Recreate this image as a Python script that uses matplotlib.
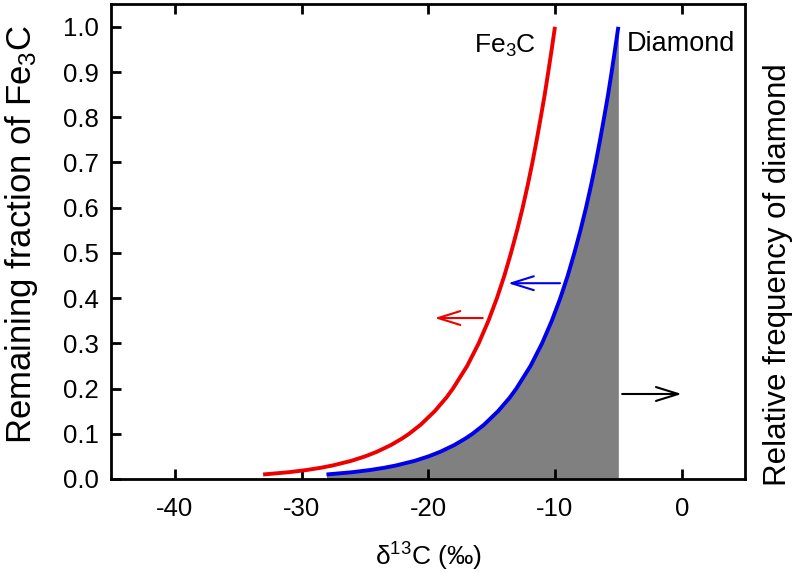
import numpy as np
import matplotlib
matplotlib.use("Agg")
import matplotlib.pyplot as plt

# values
frac = [0.01, 0.015, 0.02, 0.025, 0.03, 0.04, 0.05, 0.06, 0.075, 0.09,
        0.10, 0.12, 0.15, 0.18, 0.20, 0.25, 0.30, 0.35, 0.40, 0.45,
        0.50, 0.55, 0.60, 0.65, 0.70, 0.75, 0.80, 0.85, 0.90, 0.95, 1.00]
d13c_fe3c = [-33.03, -31.00, -29.56, -28.44, -27.53, -26.09, -24.98, -24.07, -22.95, -22.04,
             -21.51, -20.60, -19.49, -18.57, -18.05, -16.93, -16.02, -15.25, -14.58, -13.99,
             -13.47, -12.99, -12.55, -12.15, -11.78, -11.44, -11.12, -10.81, -10.53, -10.26, -10.00]
d13c_diamond = [-28.03, -26.00, -24.56, -23.44, -22.53, -21.09, -19.98, -19.07, -17.95, -17.04,
                -16.51, -15.60, -14.49, -13.57, -13.05, -11.93, -11.02, -10.25, -9.58, -8.99,
                -8.47, -7.99, -7.55, -7.15, -6.78, -6.44, -6.12, -5.81, -5.53, -5.26, -5.00]

plt.rcParams['font.family'] = ['Liberation Sans', 'DejaVu Sans']
plt.rcParams['mathtext.fontset'] = 'custom'
plt.rcParams['mathtext.rm'] = 'Liberation Sans'
plt.rcParams['mathtext.it'] = 'Liberation Sans'

fig = plt.figure(figsize=(7.96, 5.72), dpi=100)
ax = fig.add_axes([0.140, 0.1626, 0.796, 0.830])

ax.fill_between(d13c_diamond, 0, frac, color='#808080', lw=0, zorder=1)
ax.plot(d13c_fe3c, frac, color='#ee0000', lw=2.8, solid_capstyle='butt', zorder=3)
ax.plot(d13c_diamond, frac, color='#0000ee', lw=2.8, solid_capstyle='butt', zorder=3)

arrow = dict(arrowstyle='->,head_length=0.8,head_width=0.25', lw=1.5,
             mutation_scale=20, shrinkA=0, shrinkB=0)
ax.annotate('', xy=(-19.5, 0.356), xytext=(-15.7, 0.356),
            arrowprops=dict(arrow, color='#ee0000'))
ax.annotate('', xy=(-13.7, 0.433), xytext=(-9.6, 0.433),
            arrowprops=dict(arrow, color='#0000ee'))
ax.annotate('', xy=(0.0, 0.188), xytext=(-4.7, 0.188),
            arrowprops=dict(arrow, color='black'))

ax.text(-11.5, 0.958, 'Fe$_3$C', ha='right', va='center', fontsize=19)
ax.text(-4.3, 0.962, 'Diamond', ha='left', va='center', fontsize=19.5)

ax.set_xlim(-45, 5)
ax.set_ylim(0, 1.05)
ax.set_xticks([-40, -30, -20, -10, 0])
ax.set_xticklabels(['-40', '-30', '-20', '-10', '0'])
ax.set_yticks(np.arange(0, 1.01, 0.1))
ax.set_yticklabels([f'{v:.1f}' for v in np.arange(0, 1.01, 0.1)])
ax.tick_params(axis='both', direction='in', length=7, width=2, labelsize=18.5)
ax.tick_params(axis='x', top=True, pad=13)
ax.tick_params(axis='y', pad=9)
for s in ax.spines.values():
    s.set_linewidth(2)

ax.set_xlabel('δ$^{13}$C (‰)', fontsize=19, labelpad=14)
ax.set_ylabel('Remaining fraction of Fe$_3$C', fontsize=25, labelpad=14)
ax.yaxis.set_label_coords(-0.113, 0.515)
fig.text(0.978, 0.52, 'Relative frequency of diamond', rotation=90,
         ha='center', va='center', fontsize=22.5)

fig.savefig('out.png', dpi=100)
